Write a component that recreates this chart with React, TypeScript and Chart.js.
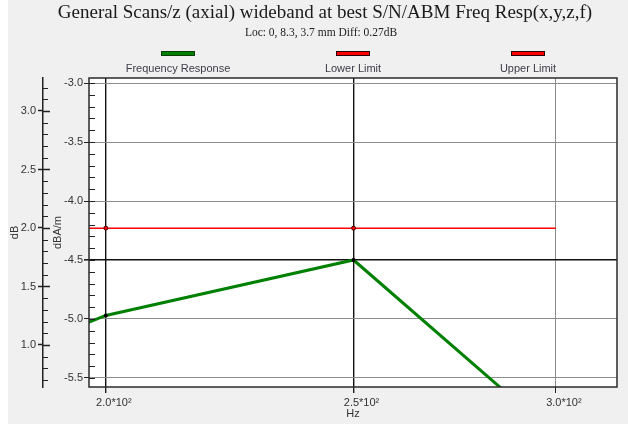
import React, { useEffect, useRef } from "react";
import { Chart, registerables } from "chart.js";

Chart.register(...registerables);

// ---- data ----
const freqsHz = [150, 200, 250, 300];
const freqResponse = [-6.03, -4.97, -4.5, -5.99];
const lowerLimit = [-8.23, -8.23, -8.23, -8.23];
const upperLimit = [-4.23, -4.23, -4.23, -4.23];

const xTickValues = [200, 250, 300];
const xTickLabels = ["2.0*10²", "2.5*10²", "3.0*10²"];
const yTickValues = [-5.5, -5.0, -4.5, -4.0, -3.5, -3.0];
const dbTickValues = [1.0, 1.5, 2.0, 2.5, 3.0];

const chartTitle = "General Scans/z (axial) wideband at best S/N/ABM Freq Resp(x,y,z,f)";
const chartSubtitle = "Loc: 0, 8.3, 3.7 mm Diff: 0.27dB";
const seriesNames = ["Frequency Response", "Lower Limit", "Upper Limit"];
const seriesColors = ["#008000", "#ff0000", "#ff0000"];
const seriesEdges = ["#0b3d0b", "#2a0000", "#2a0000"];

const X_MIN = 196.99;
const X_MAX = 316.97;
const Y_MIN = -5.5763;
const Y_MAX = -2.9576;
const DB_MIN = 0.641;
const DB_MAX = 3.282;

const TICK_FONT = { family: "Liberation Sans", size: 11 };
const TICK_COLOR = "#333333";

const toPoints = (vals: number[]) => freqsHz.map((f, i) => ({ x: f, y: vals[i] }));

const decorPlugin = {
  id: "decor",
  beforeDraw(chart: any) {
    const { ctx, chartArea: a, width, height } = chart;
    ctx.save();
    ctx.fillStyle = "#f0f0f0";
    ctx.fillRect(0, 0, width, height);
    ctx.fillStyle = "#ffffff";
    ctx.fillRect(0, 0, 8, height);
    ctx.fillRect(a.left, a.top, a.right - a.left, a.bottom - a.top);
    ctx.restore();
  },
  afterDraw(chart: any) {
    const { ctx, chartArea: a } = chart;
    const y = chart.scales.y;
    const y2 = chart.scales.y2;
    ctx.save();
    ctx.strokeStyle = "#222222";
    ctx.lineWidth = 1;
    // inner minor ticks along the left edge of the plot
    for (let i = -55; i <= -30; i++) {
      const py = Math.round(y.getPixelForValue(i / 10)) + 0.5;
      ctx.beginPath();
      ctx.moveTo(a.left, py);
      ctx.lineTo(a.left + 6, py);
      ctx.stroke();
    }
    // outer dB axis: right-side tick segments
    const ax = y2.right;
    for (let i = 7; i <= 32; i++) {
      const py = Math.round(y2.getPixelForValue(i / 10)) + 0.5;
      const major = i % 5 === 0;
      ctx.lineWidth = major ? 1.5 : 1;
      ctx.beginPath();
      ctx.moveTo(ax, py);
      ctx.lineTo(ax + (major ? 7 : 5), py);
      ctx.stroke();
    }
    // plot frame
    ctx.lineWidth = 1.5;
    ctx.strokeStyle = "#2a2a2a";
    ctx.strokeRect(a.left, a.top, a.right - a.left, a.bottom - a.top);
    ctx.restore();
  },
};

export default function App() {
  const canvasRef = useRef<HTMLCanvasElement | null>(null);

  useEffect(() => {
    if (!canvasRef.current) return;
    const chart = new Chart(canvasRef.current, {
      type: "line",
      data: {
        datasets: [
          {
            label: seriesNames[0],
            data: toPoints(freqResponse),
            borderColor: seriesColors[0],
            borderWidth: 3,
            pointRadius: [0, 2, 2, 0],
            pointBackgroundColor: "#000000",
            pointBorderColor: "#000000",
            pointBorderWidth: 0,
            tension: 0,
            yAxisID: "y",
          },
          {
            label: seriesNames[1],
            data: toPoints(lowerLimit),
            borderColor: seriesColors[1],
            borderWidth: 1.5,
            pointRadius: [0, 2, 2, 0],
            pointBackgroundColor: "#ff0000",
            pointBorderColor: "#400000",
            pointBorderWidth: 1,
            tension: 0,
            yAxisID: "y",
          },
          {
            label: seriesNames[2],
            data: toPoints(upperLimit),
            borderColor: seriesColors[2],
            borderWidth: 1.5,
            pointRadius: [0, 2, 2, 0],
            pointBackgroundColor: "#ff0000",
            pointBorderColor: "#400000",
            pointBorderWidth: 1,
            tension: 0,
            yAxisID: "y",
          },
        ],
      },
      options: {
        responsive: false,
        animation: false,
        events: [],
        layout: { padding: { top: 78, right: 11, bottom: 0, left: 0 } },
        plugins: {
          legend: { display: false },
          title: { display: false },
          tooltip: { enabled: false },
        },
        scales: {
          x: {
            type: "logarithmic",
            position: "bottom",
            min: X_MIN,
            max: X_MAX,
            afterBuildTicks: (s: any) => {
              s.ticks = xTickValues.map((v) => ({ value: v }));
            },
            afterFit: (s: any) => {
              s.height = 37;
            },
            ticks: {
              autoSkip: false,
              maxRotation: 0,
              font: TICK_FONT,
              color: TICK_COLOR,
              padding: 3,
              labelOffset: 8,
              callback: (_v: any, i: number) => xTickLabels[i],
            },
            grid: {
              color: (c: any) => (c.tick && c.tick.value === 300 ? "#8c8c8c" : "#111111"),
              lineWidth: (c: any) => (c.tick && c.tick.value === 300 ? 1 : 1.4),
              tickLength: 6,
              tickColor: "#222222",
            },
            border: { display: false },
            title: {
              display: true,
              text: "Hz",
              font: TICK_FONT,
              color: TICK_COLOR,
              padding: { top: 0, bottom: 3 },
            },
          },
          y: {
            type: "linear",
            position: "left",
            weight: 0,
            min: Y_MIN,
            max: Y_MAX,
            afterBuildTicks: (s: any) => {
              s.ticks = yTickValues.map((v) => ({ value: v }));
            },
            afterFit: (s: any) => {
              s.width = 46;
            },
            ticks: {
              autoSkip: false,
              font: TICK_FONT,
              color: TICK_COLOR,
              padding: 1,
              callback: (v: any) => Number(v).toFixed(1),
            },
            grid: {
              color: (c: any) => (c.tick && c.tick.value === -4.5 ? "#111111" : "#8c8c8c"),
              lineWidth: (c: any) => (c.tick && c.tick.value === -4.5 ? 1.6 : 1),
              tickLength: 5,
              tickColor: "#222222",
            },
            border: { display: false },
            title: {
              display: true,
              text: "dBA/m",
              font: TICK_FONT,
              color: TICK_COLOR,
              padding: { top: 8, bottom: 0 },
            },
          },
          y2: {
            type: "linear",
            position: "left",
            weight: 1,
            min: DB_MIN,
            max: DB_MAX,
            afterBuildTicks: (s: any) => {
              s.ticks = dbTickValues.map((v) => ({ value: v }));
            },
            afterFit: (s: any) => {
              s.width = 43;
            },
            ticks: {
              autoSkip: false,
              font: TICK_FONT,
              color: TICK_COLOR,
              padding: 2,
              callback: (v: any) => Number(v).toFixed(1),
            },
            grid: {
              drawOnChartArea: false,
              tickLength: 5,
              tickColor: "#222222",
              tickWidth: 1.5,
            },
            border: { display: true, color: "#222222", width: 1.5 },
            title: {
              display: true,
              text: "dB",
              font: TICK_FONT,
              color: TICK_COLOR,
              padding: { top: 8, bottom: 0 },
            },
          },
        },
      } as any,
      plugins: [decorPlugin],
    });
    return () => chart.destroy();
  }, []);

  const legendCenters = [178, 353, 528];

  return (
    <div
      style={{
        position: "fixed",
        left: 0,
        top: 0,
        width: 628,
        height: 424,
        overflow: "hidden",
      }}
    >
      <canvas ref={canvasRef} width={628} height={424} style={{ display: "block", width: 628, height: 424 }} />
      <div
        style={{
          position: "absolute",
          left: 325,
          top: 2,
          transform: "translateX(-50%)",
          whiteSpace: "nowrap",
          fontFamily: "Liberation Serif",
          fontSize: 19,
          lineHeight: "19px",
          color: "#1a1a1a",
        }}
      >
        {chartTitle}
      </div>
      <div
        style={{
          position: "absolute",
          left: 321,
          top: 26,
          transform: "translateX(-50%)",
          whiteSpace: "nowrap",
          fontFamily: "Liberation Serif",
          fontSize: 11.5,
          lineHeight: "12px",
          color: "#222222",
        }}
      >
        {chartSubtitle}
      </div>
      {seriesNames.map((name, i) => (
        <React.Fragment key={name}>
          <div
            style={{
              position: "absolute",
              left: legendCenters[i] - 17,
              top: 51,
              width: 34,
              height: 5,
              boxSizing: "border-box",
              background: seriesColors[i],
              border: `1px solid ${seriesEdges[i]}`,
            }}
          />
          <div
            style={{
              position: "absolute",
              left: legendCenters[i],
              top: 62,
              transform: "translateX(-50%)",
              whiteSpace: "nowrap",
              fontFamily: "Liberation Sans",
              fontSize: 11,
              lineHeight: "13px",
              color: "#3c3c48",
            }}
          >
            {name}
          </div>
        </React.Fragment>
      ))}
    </div>
  );
}
